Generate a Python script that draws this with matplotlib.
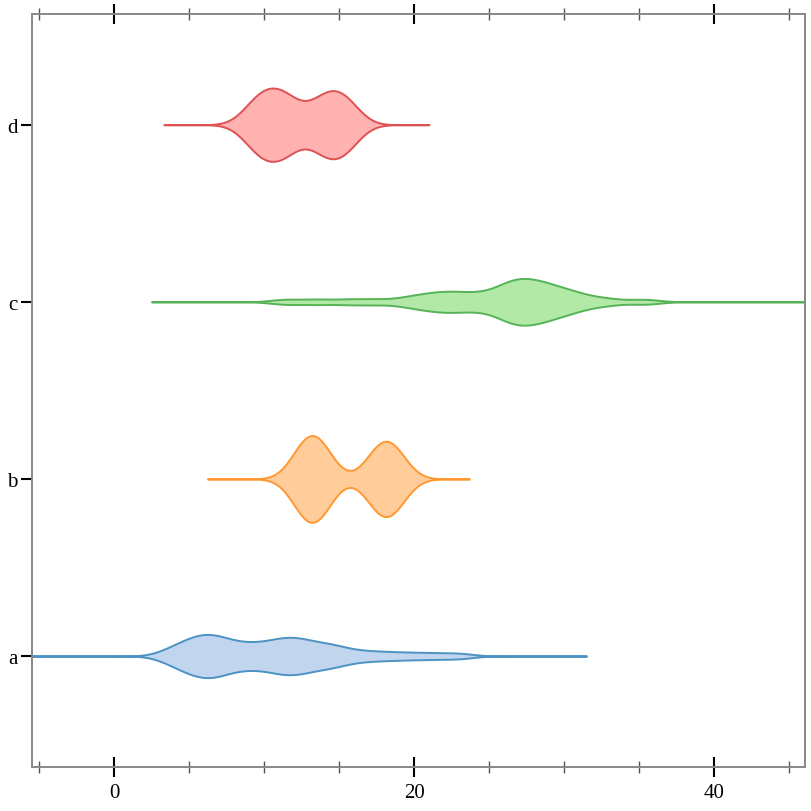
"""Horizontal violin plot of four groups."""

import matplotlib.pyplot as plt
import numpy as np

plt.rcParams["font.family"] = ["Liberation Serif", "DejaVu Serif"]

categories = ["a", "b", "c", "d"]

a_values = [3.5, 4.1, 4.5, 4.9, 5.2, 5.5, 5.7, 6.0, 6.2, 6.4, 6.7, 6.9, 7.2, 7.5,
            7.9, 8.4, 8.7, 9.3, 9.6, 10.1, 10.5, 10.9, 11.2, 11.4, 11.7, 12.0,
            12.3, 12.6, 12.9, 13.3, 13.8, 14.3, 14.7, 15.0, 16.0, 17.0, 18.2,
            19.6, 21.2, 23.0]
b_values = [12.3, 12.6, 12.9, 13.2, 13.5, 13.8, 14.1,
            17.3, 17.6, 18.0, 18.3, 18.6, 19.0]
c_values = [11.4, 13.5, 15.6, 17.4,
            19.3, 20.2, 20.9, 21.5, 22.0, 22.5, 23.0, 23.6, 24.2,
            24.8, 25.5, 25.8, 26.1, 26.4, 26.6, 26.8, 27.0,
            27.2, 27.5, 27.7, 27.9, 28.2, 28.4, 28.7, 29.0, 29.3, 29.7,
            30.0, 30.5, 31.0, 31.8, 33.1, 35.4]
d_values = [9.1, 9.6, 10.1, 10.5, 11.0, 11.5, 11.9,
            13.4, 13.9, 14.4, 14.9, 15.3, 15.8]

# range over which each density is drawn
extent_lo = [-5.5, 6.2, 2.5, 3.3]
extent_hi = [31.5, 23.7, 48.0, 21.0]

strokes = ["#4c92c3", "#ff9832", "#56b356", "#de5253"]
fills = ["#c2d5ee", "#ffcc9a", "#b2e9a7", "#ffb2b0"]
half_widths = [0.122, 0.245, 0.132, 0.207]
BANDWIDTH = 1.0


def kde(samples, grid, bw):
    s = np.asarray(samples)[:, None]
    return np.exp(-0.5 * ((grid[None, :] - s) / bw) ** 2).sum(axis=0)


fig = plt.figure(figsize=(8.12, 8.12), dpi=100)
ax = fig.add_axes([32 / 812, 44.3 / 812, 773 / 812, 752.7 / 812])

groups = [a_values, b_values, c_values, d_values]
for i, vals in enumerate(groups):
    grid = np.linspace(extent_lo[i], extent_hi[i], 800)
    dens = kde(vals, grid, BANDWIDTH)
    w = dens / dens.max() * half_widths[i]
    ax.fill_between(grid, i - w, i + w, facecolor=fills[i], edgecolor=strokes[i],
                    linewidth=1.4, zorder=2)

ax.set_xlim(-5.5, 46.1)
ax.set_ylim(-0.625, 3.625)
ax.set_yticks(range(len(categories)))
ax.set_yticklabels(categories)
ax.set_xticks([0, 20, 40])
ax.set_xticks(np.arange(-5, 46, 5), minor=True)

ax.tick_params(axis="x", which="major", direction="inout", length=14, width=1.5,
               color="black", top=True, labeltop=False, labelsize=15, pad=5)
ax.tick_params(axis="x", which="minor", direction="inout", length=8.5, width=1,
               color="#555555", top=True)
ax.tick_params(axis="y", direction="out", length=8, width=1.5, color="black",
               labelsize=15, pad=2.5)

for sp in ax.spines.values():
    sp.set_color("#888888")
    sp.set_linewidth(1.4)

fig.savefig("out.png", dpi=100)
